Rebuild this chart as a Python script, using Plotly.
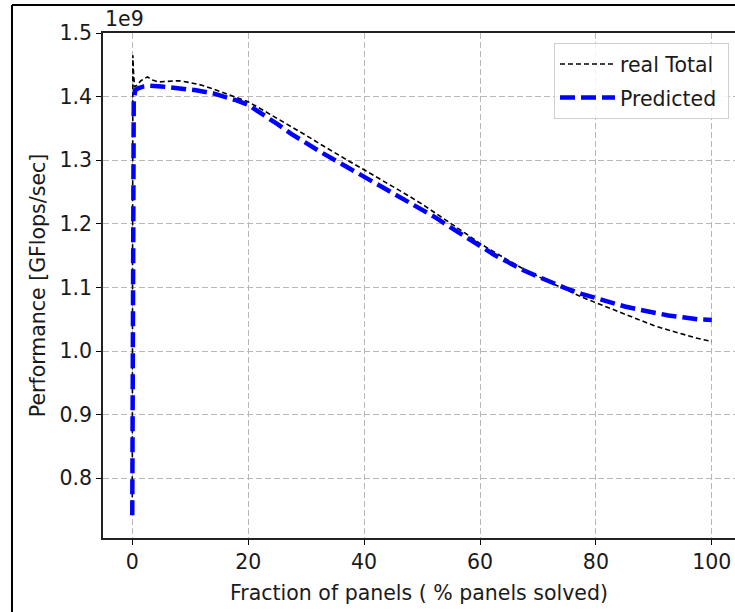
import plotly.graph_objects as go

# Performance (in units of 1e9 GFlops/sec) vs. fraction of panels solved (%)
real_x = [0, 0.05, 0.1, 0.2, 0.4, 0.8, 1.5, 2.6, 3.5, 4.5, 6, 8, 10, 12, 14, 16, 18,
          20, 22.5, 25, 27.5, 30, 32.5, 35, 37.5, 40, 42.5, 45, 47.5, 50, 52.5, 55,
          57.5, 60, 62.5, 65, 67.5, 70, 72.5, 75, 77.5, 80, 82.5, 85, 87.5, 90, 92.5,
          95, 97.5, 100]
real_total = [0.745, 1.30, 1.465, 1.44, 1.415, 1.418, 1.425, 1.431, 1.426, 1.423, 1.424,
              1.425, 1.422, 1.418, 1.412, 1.405, 1.399, 1.392, 1.379, 1.366, 1.352, 1.339,
              1.325, 1.311, 1.298, 1.285, 1.272, 1.259, 1.245, 1.231, 1.216, 1.201, 1.185,
              1.169, 1.155, 1.142, 1.129, 1.117, 1.106, 1.096, 1.085, 1.076, 1.067, 1.058,
              1.049, 1.040, 1.033, 1.026, 1.020, 1.015]

pred_x = [0, 0.1, 0.25, 0.5, 1, 2, 3, 5, 8, 11, 14, 16, 18, 20, 22.5, 25, 27.5, 30,
          32.5, 35, 37.5, 40, 42.5, 45, 47.5, 50, 52.5, 55, 57.5, 60, 62.5, 65, 67.5,
          70, 72.5, 75, 77.5, 80, 82.5, 85, 87.5, 90, 92.5, 95, 97.5, 100]
predicted = [0.742, 1.0, 1.39, 1.41, 1.413, 1.416, 1.417, 1.416, 1.413, 1.410, 1.405,
             1.400, 1.394, 1.387, 1.373, 1.357, 1.341, 1.326, 1.313, 1.300, 1.287, 1.274,
             1.261, 1.249, 1.236, 1.223, 1.209, 1.194, 1.179, 1.164, 1.151, 1.139, 1.127,
             1.117, 1.107, 1.098, 1.090, 1.083, 1.076, 1.070, 1.065, 1.060, 1.056, 1.053,
             1.050, 1.049]

x_ticks = [0, 20, 40, 60, 80, 100]
y_ticks = [0.8, 0.9, 1.0, 1.1, 1.2, 1.3, 1.4, 1.5]

FONT = "DejaVu Sans"
TXT = "#1a1a1a"
FS = 20.5
PAD = "\u00a0"

fig = go.Figure()
fig.add_trace(go.Scatter(
    x=real_x, y=real_total, mode="lines", name="real Total" + PAD, legendgroup="a",
    line=dict(color="black", width=1.6, dash="5px,3px"),
))
fig.add_trace(go.Scatter(
    x=pred_x, y=predicted, mode="lines", name="Predicted" + PAD, legendgroup="b",
    line=dict(color="#0000ff", width=4.5, dash="15px,6px"),
))

grid = dict(showgrid=True, gridcolor="#b8b8b8", gridwidth=1.2, griddash="6px,3px")

fig.update_xaxes(
    range=[-5.05, 104.0], tickvals=x_ticks, ticktext=[str(v) for v in x_ticks],
    ticks="outside", ticklen=5, tickwidth=1.2, tickcolor="black",
    showline=True, linecolor="#222", linewidth=1.6, mirror=True,
    zeroline=False, title=dict(text="Fraction of panels ( % panels solved)", standoff=12,
                               font=dict(size=FS, color=TXT, family=FONT)),
    tickfont=dict(size=FS, color=TXT, family=FONT), **grid,
)
fig.update_yaxes(
    range=[0.7061, 1.5], tickvals=y_ticks, ticktext=[f"{v:.1f}" for v in y_ticks],
    ticks="outside", ticklen=5, tickwidth=1.2, tickcolor="black",
    showline=True, linecolor="#222", linewidth=1.6, mirror=False,
    zeroline=False, title=dict(text="Performance [GFlops/sec]", standoff=8,
                               font=dict(size=FS, color=TXT, family=FONT)),
    tickfont=dict(size=FS, color=TXT, family=FONT), **grid,
)

# offset text above the y axis, as matplotlib shows it
fig.add_annotation(text="1e9", xref="paper", yref="paper", x=0.0, y=1.0,
                   xanchor="left", yanchor="bottom", showarrow=False, yshift=0,
                   font=dict(size=FS, color=TXT, family=FONT))

# outer frame of the figure
fig.add_shape(type="line", xref="paper", yref="paper", x0=-0.144, x1=-0.144,
              y0=-0.2, y1=1.0554, line=dict(color="black", width=2))
fig.add_shape(type="line", xref="paper", yref="paper", x0=-0.144, x1=1.2,
              y0=1.0554, y1=1.0554, line=dict(color="black", width=2))

fig.update_layout(
    width=735, height=612,
    margin=dict(l=103, r=0, t=33, b=74),
    paper_bgcolor="white", plot_bgcolor="white",
    font=dict(family=FONT, color=TXT),
    legend=dict(x=0.9905, y=0.98, xanchor="right", yanchor="top",
                bgcolor="rgba(255,255,255,0.85)", bordercolor="#d0d0d0", borderwidth=1,
                font=dict(size=FS, color=TXT, family=FONT), tracegroupgap=4,
                itemwidth=55),
    showlegend=True,
)

fig.write_html("out.html")
